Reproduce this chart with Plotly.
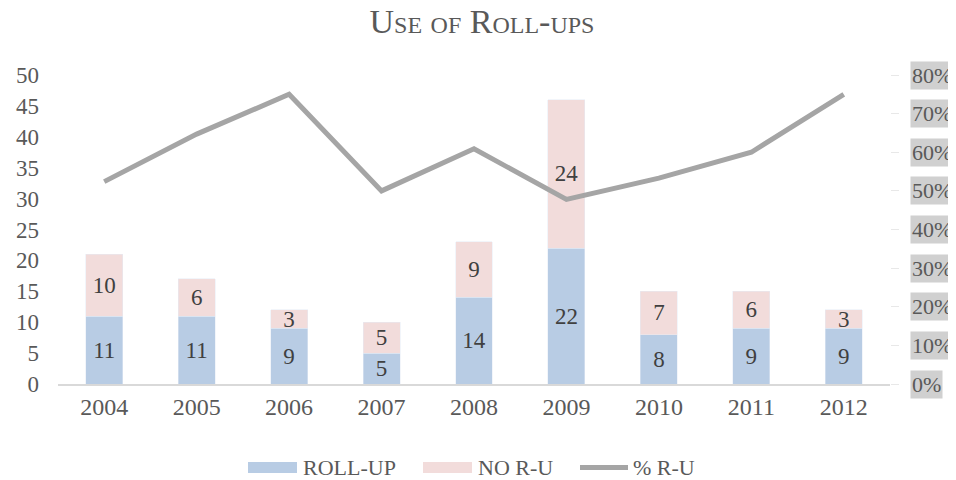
import plotly.graph_objects as go

years = ["2004", "2005", "2006", "2007", "2008", "2009", "2010", "2011", "2012"]
roll_up = [11, 11, 9, 5, 14, 22, 8, 9, 9]
no_ru = [10, 6, 3, 5, 9, 24, 7, 6, 3]
pct_ru = [0.524, 0.647, 0.75, 0.50, 0.609, 0.478, 0.533, 0.60, 0.75]
right_ticks = [0, 0.1, 0.2, 0.3, 0.4, 0.5, 0.6, 0.7, 0.8]
right_tick_text = ["0%", "10%", "20%", "30%", "40%", "50%", "60%", "70%", "80%"]

FONT = "Liberation Serif, serif"
TXT = "#595959"
BLUE = "#B8CCE4"
PINK = "#F2DCDB"
GRAY = "#A5A5A5"

# page body has an 8px default margin; compensate so the figure fills the window
OFF = 8
W, H = 956 - OFF, 480 - OFF
ML, MT = 58 - OFF, 75 - OFF
MR = W - (890 - OFF)
MB = H - (384 - OFF)
PW, PH = W - ML - MR, H - MT - MB


def px(x):
    return (x - OFF - ML) / PW


def py(y):
    return (H - MB - (y - OFF)) / PH


fig = go.Figure()
fig.add_trace(go.Bar(x=years, y=roll_up, name="ROLL-UP", marker_color=BLUE,
                     text=roll_up, textposition="inside", insidetextanchor="middle",
                     textangle=0,
                     textfont=dict(size=23, color="#404040", family=FONT)))
fig.add_trace(go.Bar(x=years, y=no_ru, name="NO R-U", marker_color=PINK,
                     text=no_ru, textposition="inside", insidetextanchor="middle",
                     textangle=0,
                     textfont=dict(size=23, color="#404040", family=FONT)))
fig.add_trace(go.Scatter(x=years, y=pct_ru, name="% R-U", mode="lines", yaxis="y2",
                         line=dict(color=GRAY, width=5)))

# right axis labels with grey background
for v, t in zip(right_ticks, right_tick_text):
    fig.add_annotation(x=1, xref="paper", xanchor="left", xshift=20, y=v, yref="y2",
                       text=t, showarrow=False, bgcolor="#D0D0D0", borderpad=1,
                       font=dict(family=FONT, size=22, color=TXT))

# custom legend
shapes = [
    dict(type="rect", xref="paper", yref="paper", x0=px(248), x1=px(297), y0=py(473), y1=py(462),
         fillcolor=BLUE, line=dict(width=0)),
    dict(type="rect", xref="paper", yref="paper", x0=px(423), x1=px(472), y0=py(473), y1=py(462),
         fillcolor=PINK, line=dict(width=0)),
    dict(type="line", xref="paper", yref="paper", x0=px(580), x1=px(628), y0=py(467.5), y1=py(467.5),
         line=dict(color=GRAY, width=5)),
]
for xl, t in [(301, "ROLL-UP"), (476, "NO R-U"), (631, "% R-U")]:
    fig.add_annotation(x=px(xl), xref="paper", xanchor="left", y=py(467), yref="paper",
                       yanchor="middle", text=t, showarrow=False,
                       font=dict(family=FONT, size=22, color=TXT))

fig.update_layout(
    width=W, height=H,
    barmode="stack", bargap=0.6,
    paper_bgcolor="white", plot_bgcolor="white",
    margin=dict(l=ML, r=MR, t=MT, b=MB, autoexpand=False),
    font=dict(family=FONT, color=TXT, size=23),
    uniformtext=dict(minsize=23, mode="show"),
    showlegend=False,
    shapes=shapes,
    title=dict(text="Use of Roll-ups",
               x=0.5, xanchor="center", y=1 - 13 / H, yanchor="middle",
               font=dict(family=FONT, size=34, color=TXT, variant="small-caps")),
    xaxis=dict(showline=True, linecolor="#D9D9D9", linewidth=1.5, ticks="",
               tickfont=dict(size=24, color=TXT), showgrid=False),
    yaxis=dict(range=[0, 50], dtick=5, showgrid=False, zeroline=False,
               tickfont=dict(size=23, color=TXT), ticklabelstandoff=18),
    yaxis2=dict(range=[0, 0.8], overlaying="y", side="right", showgrid=False,
                zeroline=False, showticklabels=False, tickvals=right_ticks,
                ticks="outside", ticklen=8, tickcolor="#E8E8E8"),
)

fig.write_html("out.html")
